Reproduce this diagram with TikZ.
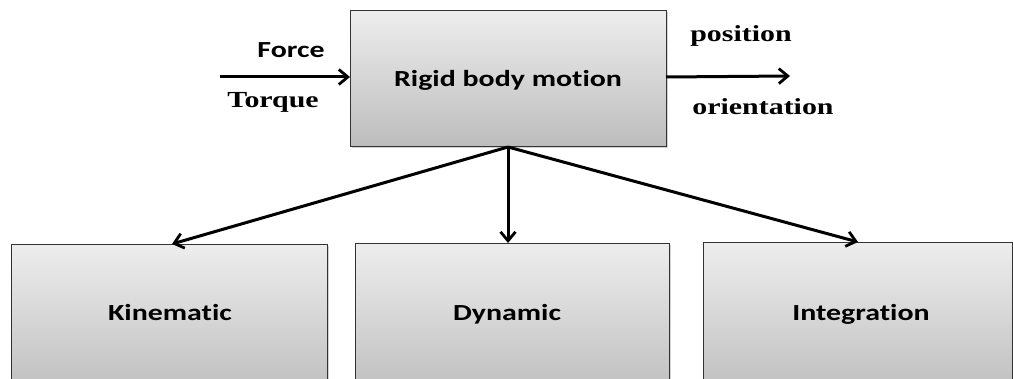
\documentclass[tikz,border=0pt]{standalone}
\usepackage{fontspec}
\setmainfont{Liberation Serif}
\newfontfamily\boxfont[Ligatures={NoCommon}]{Carlito}
\usetikzlibrary{arrows.meta,shadows}
% text is set wide: 23pt type stretched 1.3 times across
\newcommand{\wide}[1]{\scalebox{1.3}[1]{#1}}
\begin{document}
\begin{tikzpicture}[x=1pt,y=-1pt,
  block/.style={draw=black!80, line width=1pt, top color=black!7, bottom color=black!26,
    drop shadow={shadow xshift=1.5pt, shadow yshift=-1.5pt, opacity=0.35}},
  blocktext/.style={font=\boxfont\bfseries\fontsize{23}{28}\selectfont, inner sep=0pt, anchor=base},
  link/.style={line width=3pt, -{Straight Barb[length=9pt,width=15pt,line width=2.8pt]}},
  sidelabel/.style={font=\bfseries\fontsize{23}{28}\selectfont, inner sep=0pt, anchor=base},
  sanslabel/.style={font=\boxfont\bfseries\fontsize{23}{28}\selectfont, inner sep=0pt, anchor=base}]
\useasboundingbox (0,0) rectangle (1013,379);
\clip (0,0) rectangle (1013,379);

% main block
\path[block] (350,11) rectangle (666,147);
\node[blocktext] (rbm) at (508,87) {\wide{Rigid body motion}};
\coordinate (rbmW) at (350,77);
\coordinate (rbmE) at (666,77);
\coordinate (rbmS) at (508,147);

% lower blocks (their lower edges run past the page)
\path[block] (11,245) rectangle (327,400);
\path[block] (355,244) rectangle (669,400);
\path[block] (703,243) rectangle (1012,400);
\node[blocktext] (kin) at (170,321) {\wide{Kinematic}};
\node[blocktext] (dyn) at (507,321) {\wide{Dynamic}};
\node[blocktext] (int) at (861,321) {\wide{Integration}};
\coordinate (kinN) at (172,244);
\coordinate (dynN) at (508,243);
\coordinate (intN) at (858,242);

% inputs and outputs
\coordinate (in) at (220,77);
\coordinate (out) at (790,76);
\draw[link] (in) -- (rbmW);
\draw[link] (rbmE) -- (out);
\node[sanslabel] (force) at (291,58) {\wide{Force}};
\node[sidelabel] (torque) at (273,108) {\wide{Torque}};
\node[sidelabel] (pos) at (741,42) {\wide{position}};
\node[sidelabel] (ori) at (763,115) {\wide{orientation}};

% branches
\draw[link] (rbmS) -- (kinN);
\draw[link] (rbmS) -- (dynN);
\draw[link] (rbmS) -- (intN);
\end{tikzpicture}
\end{document}
